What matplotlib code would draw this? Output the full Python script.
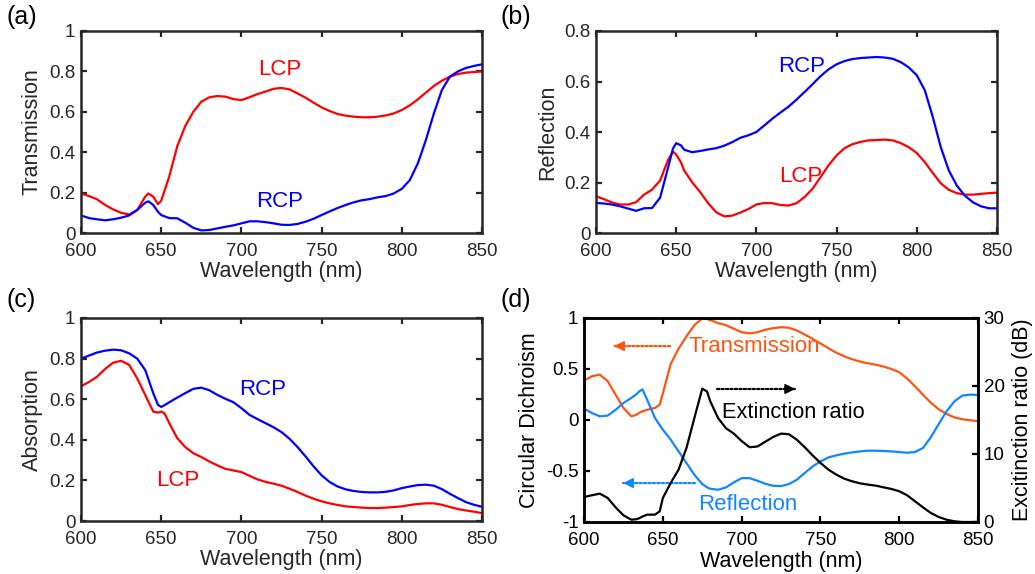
import numpy as np
import matplotlib
matplotlib.use("Agg")
import matplotlib.pyplot as plt
from matplotlib.ticker import FuncFormatter

plt.rcParams['font.family'] = ['Liberation Sans', 'DejaVu Sans']

# ---- (a) transmission ----
wl_a = [600, 605, 610, 615, 620, 625, 630, 635, 640, 642, 645, 648, 650, 655, 660, 665, 670, 675,
        680, 685, 690, 695, 700, 705, 710, 715, 720, 725, 730, 735, 740, 745, 750, 755, 760, 765,
        770, 775, 780, 785, 790, 795, 800, 805, 810, 815, 820, 825, 830, 835, 840, 845, 850]
trans_lcp = [0.196, 0.183, 0.167, 0.139, 0.117, 0.100, 0.092, 0.114, 0.180, 0.196, 0.180, 0.143, 0.160, 0.280,
             0.430, 0.530, 0.600, 0.650, 0.672, 0.678, 0.675, 0.663, 0.658, 0.672, 0.688, 0.700, 0.714,
             0.718, 0.711, 0.691, 0.670, 0.645, 0.622, 0.604, 0.589, 0.581, 0.576, 0.573, 0.573, 0.576,
             0.582, 0.592, 0.609, 0.632, 0.662, 0.695, 0.728, 0.754, 0.774, 0.787, 0.794, 0.797, 0.800]
trans_rcp = [0.087, 0.074, 0.068, 0.063, 0.068, 0.076, 0.087, 0.114, 0.150, 0.157, 0.139, 0.105, 0.089, 0.074,
             0.073, 0.051, 0.026, 0.013, 0.015, 0.023, 0.031, 0.038, 0.048, 0.058, 0.058, 0.054, 0.048,
             0.041, 0.040, 0.045, 0.056, 0.071, 0.089, 0.107, 0.124, 0.139, 0.152, 0.162, 0.168, 0.177,
             0.183, 0.196, 0.219, 0.262, 0.345, 0.460, 0.592, 0.708, 0.774, 0.800, 0.817, 0.827, 0.835]

# ---- (b) reflection ----
wl_b = [600, 605, 610, 615, 620, 625, 630, 635, 640, 645, 648, 650, 653, 655, 660, 665, 670, 675,
        680, 685, 690, 695, 700, 705, 710, 715, 720, 725, 730, 735, 740, 745, 750, 755, 760, 765,
        770, 775, 780, 785, 790, 795, 800, 805, 810, 815, 820, 825, 830, 835, 840, 845, 850]
refl_rcp = [0.119, 0.117, 0.113, 0.106, 0.097, 0.088, 0.098, 0.099, 0.140, 0.260, 0.334, 0.356, 0.347, 0.330,
            0.320, 0.325, 0.331, 0.336, 0.346, 0.360, 0.377, 0.387, 0.400, 0.426, 0.453, 0.477, 0.500,
            0.528, 0.558, 0.589, 0.621, 0.648, 0.668, 0.681, 0.689, 0.693, 0.695, 0.697, 0.695, 0.690,
            0.677, 0.656, 0.625, 0.566, 0.460, 0.340, 0.248, 0.188, 0.148, 0.122, 0.106, 0.098, 0.098]
refl_lcp = [0.146, 0.134, 0.121, 0.113, 0.113, 0.122, 0.152, 0.172, 0.208, 0.290, 0.322, 0.311, 0.280, 0.248,
            0.201, 0.162, 0.118, 0.082, 0.066, 0.069, 0.081, 0.095, 0.113, 0.119, 0.118, 0.111, 0.109,
            0.118, 0.142, 0.175, 0.221, 0.268, 0.307, 0.336, 0.352, 0.361, 0.367, 0.368, 0.370, 0.367,
            0.356, 0.340, 0.317, 0.281, 0.238, 0.197, 0.171, 0.158, 0.152, 0.152, 0.155, 0.158, 0.160]

# ---- (c) absorption ----
wl_c = [600, 605, 610, 615, 620, 625, 630, 635, 640, 645, 648, 650, 652, 655, 660, 665, 670, 675,
        680, 685, 690, 695, 700, 705, 710, 715, 720, 725, 730, 735, 740, 745, 750, 755, 760, 765,
        770, 775, 780, 785, 790, 795, 800, 805, 810, 815, 820, 825, 830, 835, 840, 845, 850]
abs_rcp = [0.800, 0.815, 0.830, 0.839, 0.844, 0.841, 0.826, 0.800, 0.744, 0.630, 0.572, 0.562, 0.570, 0.585,
           0.608, 0.630, 0.651, 0.657, 0.644, 0.621, 0.602, 0.585, 0.556, 0.523, 0.502, 0.482, 0.462,
           0.438, 0.405, 0.364, 0.318, 0.269, 0.225, 0.192, 0.170, 0.156, 0.148, 0.143, 0.141, 0.141,
           0.144, 0.151, 0.162, 0.170, 0.177, 0.179, 0.174, 0.157, 0.134, 0.113, 0.093, 0.080, 0.070]
abs_lcp = [0.664, 0.685, 0.711, 0.749, 0.780, 0.789, 0.769, 0.703, 0.621, 0.539, 0.534, 0.539, 0.531, 0.482,
           0.408, 0.364, 0.334, 0.315, 0.293, 0.274, 0.257, 0.249, 0.241, 0.223, 0.205, 0.193, 0.184,
           0.174, 0.159, 0.143, 0.125, 0.110, 0.097, 0.087, 0.079, 0.072, 0.069, 0.066, 0.064, 0.064,
           0.066, 0.069, 0.072, 0.079, 0.084, 0.087, 0.087, 0.080, 0.069, 0.059, 0.052, 0.046, 0.039]

# ---- (d) circular dichroism / extinction ratio ----
wl_d = [600, 605, 610, 615, 620, 625, 630, 633, 635, 637, 640, 645, 648, 650, 655, 660, 665, 670, 675,
        678, 680, 685, 690, 695, 700, 705, 710, 715, 720, 725, 730, 735, 740, 745, 750, 755, 760, 765,
        770, 775, 780, 785, 790, 795, 800, 805, 810, 815, 820, 825, 830, 835, 840, 845, 850]
cd_trans = [0.386, 0.429, 0.445, 0.380, 0.249, 0.118, 0.036, 0.050, 0.070, 0.085, 0.100, 0.118, 0.150, 0.260,
            0.550, 0.700, 0.820, 0.930, 0.995, 0.990, 0.980, 0.950, 0.930, 0.895, 0.860, 0.850, 0.860,
            0.885, 0.900, 0.910, 0.904, 0.877, 0.838, 0.795, 0.750, 0.704, 0.660, 0.625, 0.596, 0.573,
            0.556, 0.543, 0.524, 0.500, 0.468, 0.406, 0.330, 0.249, 0.170, 0.105, 0.059, 0.026, 0.007,
            -0.003, -0.010]
cd_refl = [0.111, 0.069, 0.036, 0.043, 0.100, 0.167, 0.216, 0.250, 0.280, 0.300, 0.200, 0.020, -0.050, -0.095,
           -0.193, -0.308, -0.422, -0.537, -0.628, -0.660, -0.674, -0.684, -0.661, -0.612, -0.570, -0.570,
           -0.596, -0.625, -0.645, -0.648, -0.628, -0.586, -0.520, -0.455, -0.406, -0.367, -0.347, -0.330,
           -0.318, -0.308, -0.301, -0.301, -0.304, -0.308, -0.314, -0.321, -0.314, -0.275, -0.170, -0.039,
           0.085, 0.183, 0.239, 0.249, 0.245]
ext_ratio = [3.68, 3.93, 4.17, 3.53, 2.16, 0.98, 0.34, 0.40, 0.55, 0.80, 1.08, 1.08, 1.57, 3.53, 5.74, 7.71,
             10.9, 15.3, 19.6, 19.2, 17.8, 15.3, 13.8, 13.0, 11.9, 11.0, 11.1, 11.8, 12.5, 13.0, 12.9, 12.1,
             11.0, 9.8, 8.69, 7.71, 6.97, 6.38, 5.99, 5.69, 5.50, 5.35, 5.10, 4.86, 4.52, 3.93, 3.04, 2.16,
             1.33, 0.74, 0.34, 0.10, 0.0, 0.0, 0.0]

RED = '#FF0000'
BLUE = '#0000FF'
ORANGE = '#FF5511'
LBLUE = '#0F87FF'
GRAY = '#262626'

fmt = FuncFormatter(lambda v, p: '%g' % v)


def style_axes(ax, color=GRAY):
    for s in ax.spines.values():
        s.set_linewidth(1.8)
        s.set_color(color)
    ax.tick_params(direction='in', length=4, width=1.6, labelsize=13.5, colors=color,
                   top=True, right=True, pad=4)
    ax.tick_params(axis='x', pad=7)
    ax.set_xlim(600, 850)
    ax.set_xticks([600, 650, 700, 750, 800, 850])
    ax.xaxis.set_major_formatter(fmt)
    ax.yaxis.set_major_formatter(fmt)
    ax.set_xlabel('Wavelength (nm)', fontsize=15.5, color=color)
    ax.xaxis.set_label_coords(0.5, -0.14)


fig = plt.figure(figsize=(10.35, 5.74), dpi=100)

ax_a = fig.add_axes([0.0783, 0.594, 0.3874, 0.352])
ax_b = fig.add_axes([0.5758, 0.594, 0.3874, 0.352])
ax_c = fig.add_axes([0.0783, 0.0923, 0.3874, 0.3537])
ax_d = fig.add_axes([0.5643, 0.0906, 0.3807, 0.3554])

# (a)
ax_a.plot(wl_a, trans_lcp, color=RED, lw=1.6)
ax_a.plot(wl_a, trans_rcp, color=BLUE, lw=1.6)
style_axes(ax_a)
ax_a.set_ylim(0, 1)
ax_a.set_yticks([0, 0.2, 0.4, 0.6, 0.8, 1])
ax_a.set_ylabel('Transmission', fontsize=15.5, color=GRAY)
ax_a.yaxis.set_label_coords(-0.095, 0.5)
ax_a.text(724, 0.807, 'LCP', color=RED, fontsize=16, ha='center', va='center')
ax_a.text(724, 0.158, 'RCP', color=BLUE, fontsize=16, ha='center', va='center')

# (b)
ax_b.plot(wl_b, refl_lcp, color=RED, lw=1.6)
ax_b.plot(wl_b, refl_rcp, color=BLUE, lw=1.6)
style_axes(ax_b)
ax_b.set_ylim(0, 0.8)
ax_b.set_yticks([0, 0.2, 0.4, 0.6, 0.8])
ax_b.set_ylabel('Reflection', fontsize=15.5, color=GRAY)
ax_b.yaxis.set_label_coords(-0.095, 0.5)
ax_b.text(728, 0.661, 'RCP', color=BLUE, fontsize=16, ha='center', va='center')
ax_b.text(728, 0.222, 'LCP', color=RED, fontsize=16, ha='center', va='center')

# (c)
ax_c.plot(wl_c, abs_lcp, color=RED, lw=1.6)
ax_c.plot(wl_c, abs_rcp, color=BLUE, lw=1.6)
style_axes(ax_c)
ax_c.set_ylim(0, 1)
ax_c.set_yticks([0, 0.2, 0.4, 0.6, 0.8, 1])
ax_c.set_ylabel('Absorption', fontsize=15.5, color=GRAY)
ax_c.yaxis.set_label_coords(-0.095, 0.5)
ax_c.text(713, 0.65, 'RCP', color=BLUE, fontsize=16, ha='center', va='center')
ax_c.text(660.5, 0.20, 'LCP', color=RED, fontsize=16, ha='center', va='center')

# (d)
ax_d.plot(wl_d, cd_trans, color=ORANGE, lw=1.6)
ax_d.plot(wl_d, cd_refl, color=LBLUE, lw=1.6)
style_axes(ax_d, color='black')
ax_d.tick_params(right=False)
ax_d.set_ylim(-1, 1)
ax_d.set_yticks([-1, -0.5, 0, 0.5, 1])
ax_d.set_ylabel('Circular Dichroism', fontsize=15.5)
ax_d.yaxis.set_label_coords(-0.112, 0.5)

ax_r = ax_d.twinx()
ax_r.plot(wl_d, ext_ratio, color='black', lw=1.6)
ax_r.set_ylim(0, 30)
ax_r.set_yticks([0, 10, 20, 30])
ax_r.tick_params(direction='in', length=4, width=1.6, labelsize=13.5, colors='black', pad=4)
for s in ax_r.spines.values():
    s.set_linewidth(1.8)
ax_r.set_ylabel('Excitinction ratio (dB)', fontsize=15.5)
ax_r.yaxis.set_label_coords(1.086, 0.5)

# dotted arrows in (d)
def dotted_arrow(ax, x0, x1, y, color):
    ax.annotate('', xy=(x1, y), xytext=(x0, y),
                arrowprops=dict(arrowstyle='-', color=color, lw=1.6, ls=(0, (1, 1)),
                                shrinkA=0, shrinkB=0))
    d = 4 if x1 > x0 else -4
    ax.annotate('', xy=(x1, y), xytext=(x1 - d, y),
                arrowprops=dict(arrowstyle='-|>,head_length=0.6,head_width=0.3', color=color,
                                lw=1.2, shrinkA=0, shrinkB=0))

dotted_arrow(ax_d, 654.6, 619.0, 0.725, ORANGE)
dotted_arrow(ax_d, 684.4, 734.0, 0.304, 'black')
dotted_arrow(ax_d, 670.4, 624.7, -0.618, LBLUE)
ax_d.text(666, 0.716, 'Transmission', color=ORANGE, fontsize=16, ha='left', va='center')
ax_d.text(687.6, 0.078, 'Extinction ratio', color='black', fontsize=15.7, ha='left', va='center')
ax_d.text(672.3, -0.824, 'Reflection', color=LBLUE, fontsize=16, ha='left', va='center')

# panel labels
for lab, x, y in [('(a)', 7, 17), ('(b)', 501, 17), ('(c)', 7, 300), ('(d)', 501, 300)]:
    fig.text(x / 1035, 1 - y / 574, lab, fontsize=18, ha='left', va='center', color='black')

fig.savefig('out.png', dpi=100)
